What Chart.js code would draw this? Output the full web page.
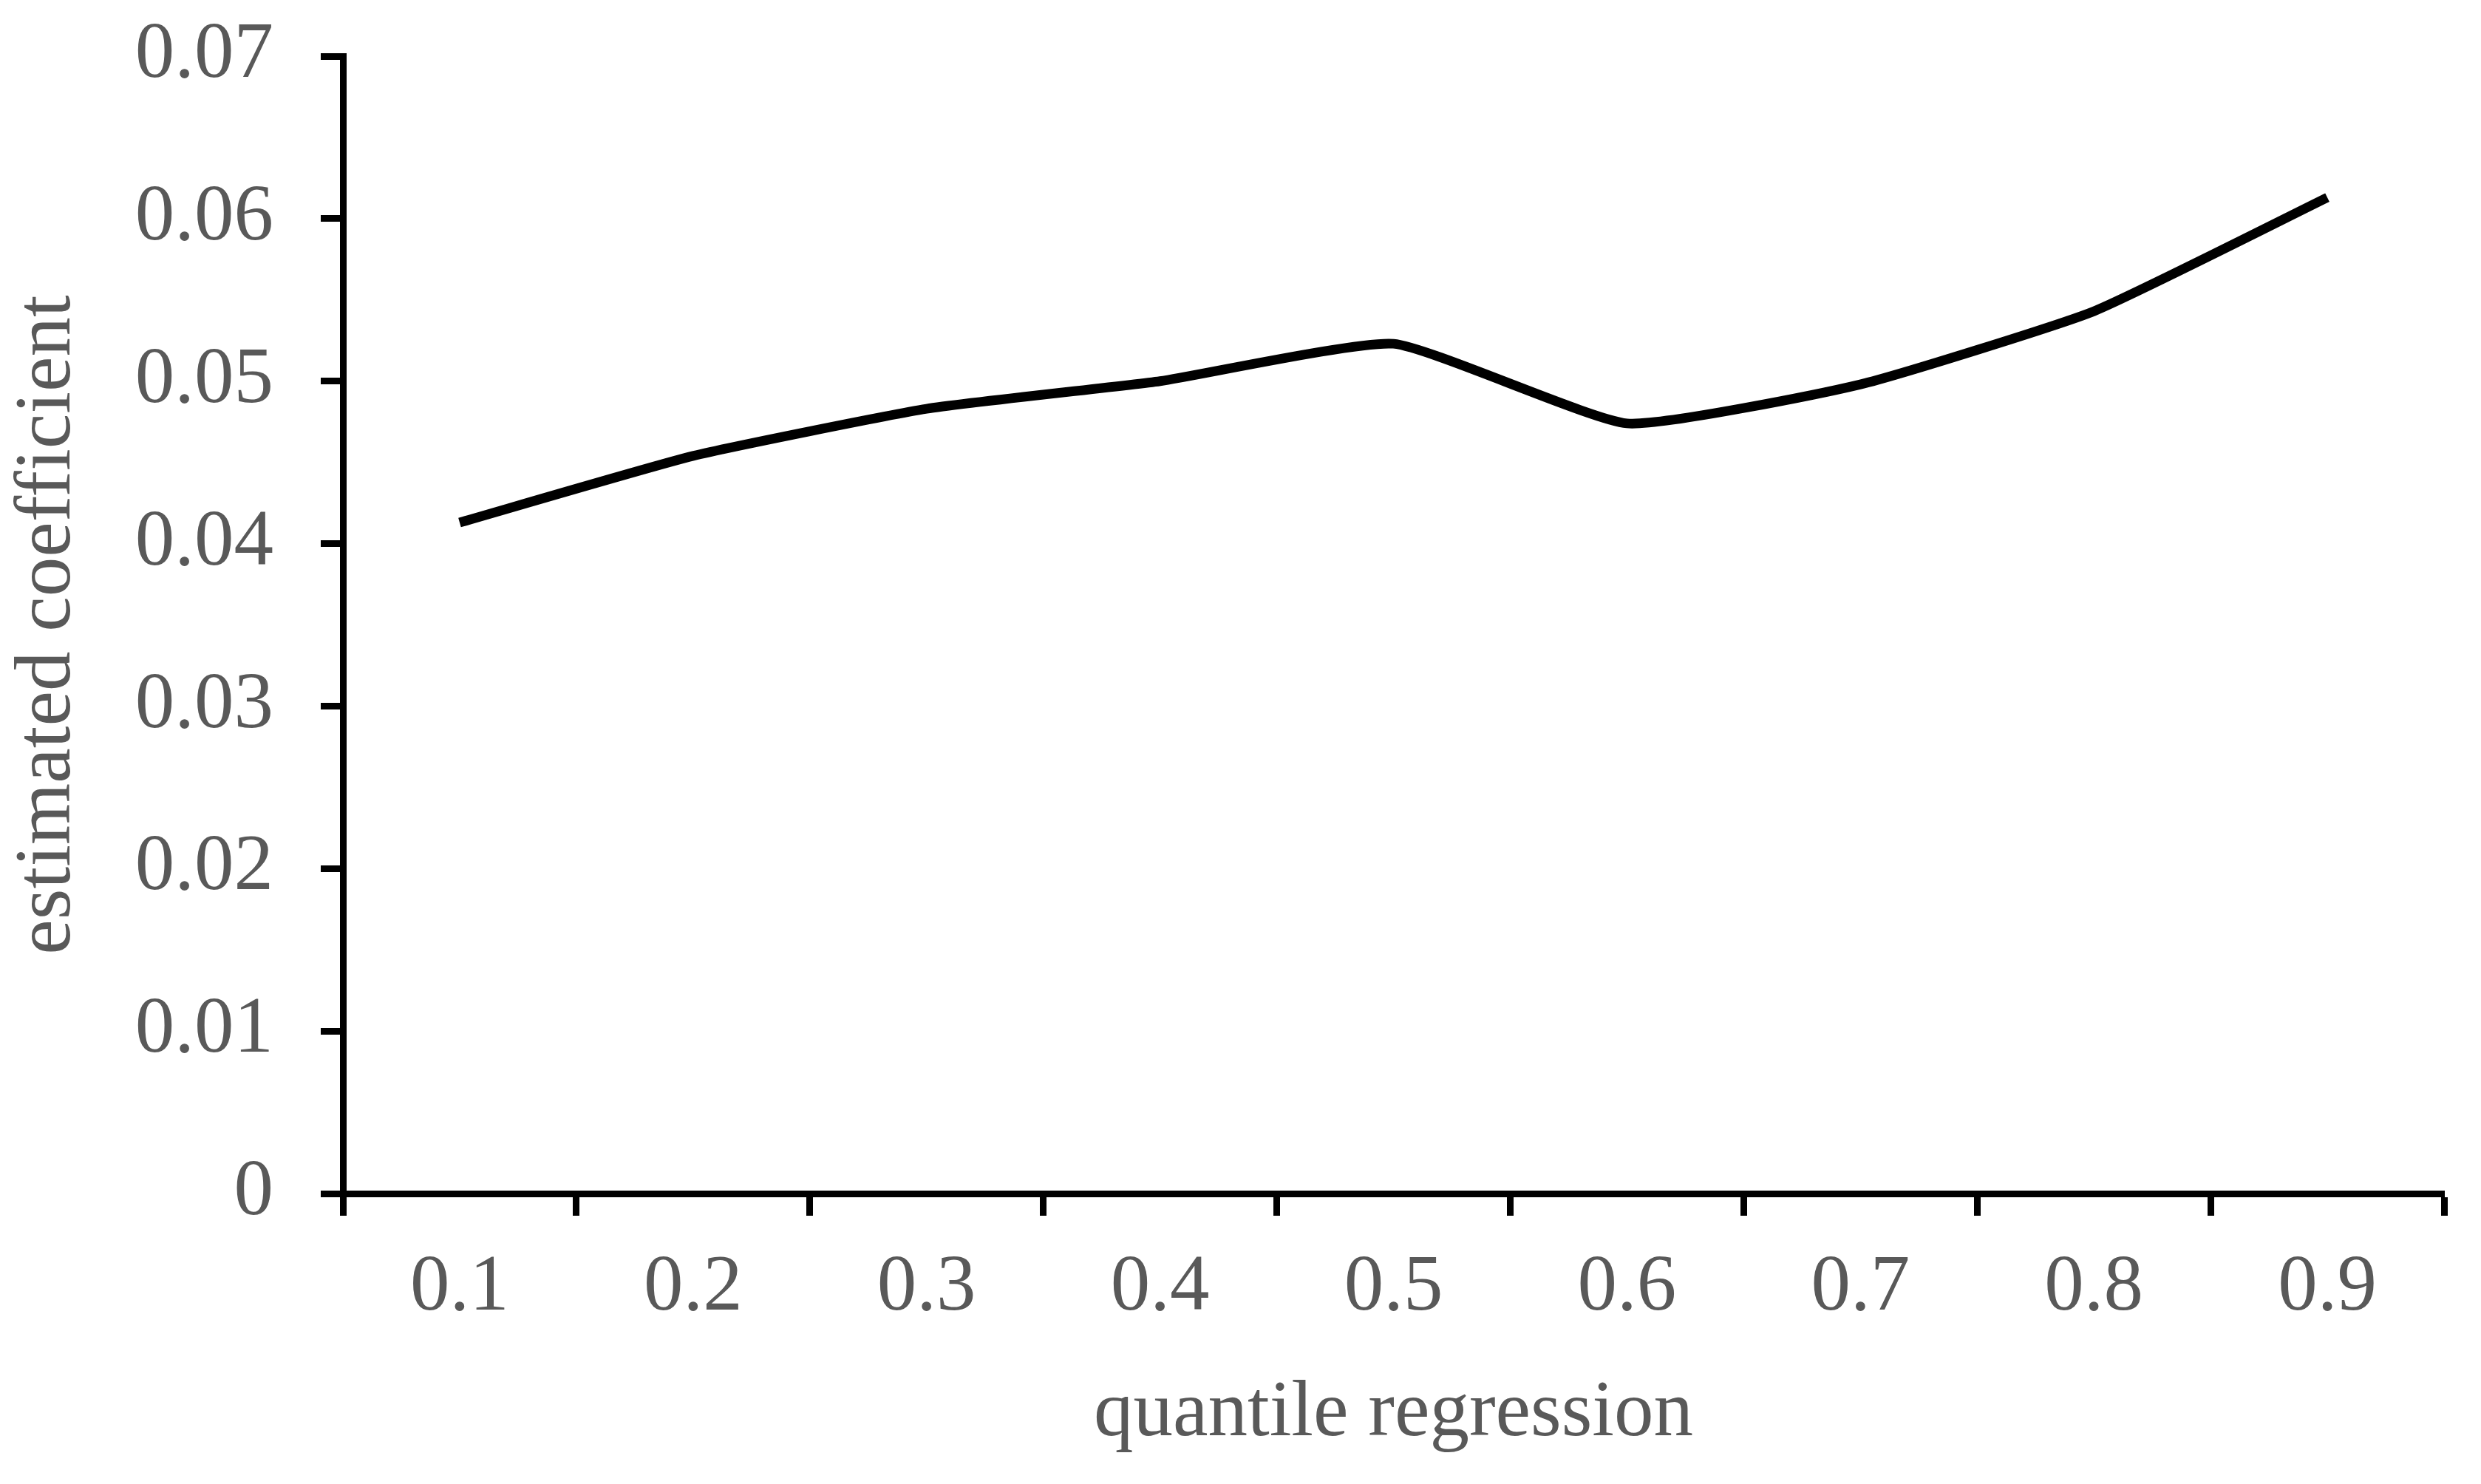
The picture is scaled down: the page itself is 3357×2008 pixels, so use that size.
<!DOCTYPE html>
<html>
<head>
<meta charset="utf-8">
<script src="https://cdn.jsdelivr.net/npm/chart.js@4/dist/chart.umd.min.js"></script>
<style>
  html, body { margin: 0; padding: 0; background: #fff; }
  #wrap { width: 3357px; height: 2008px; }
</style>
</head>
<body>
<div id="wrap"><canvas id="quantileChart"></canvas></div>
<script>
var quantiles = ['0.1', '0.2', '0.3', '0.4', '0.5', '0.6', '0.7', '0.8', '0.9'];
var coefficients = [0.0413, 0.0454, 0.0483, 0.0500, 0.0523, 0.0474, 0.0498, 0.0543, 0.0613];
var yTickLabels = ['0', '0.01', '0.02', '0.03', '0.04', '0.05', '0.06', '0.07'];

var textColor = '#595959';
var serif = "'Liberation Serif', 'Times New Roman', serif";

var ctx = document.getElementById('quantileChart').getContext('2d');

var chart = new Chart(ctx, {
  type: 'line',
  data: {
    labels: quantiles,
    datasets: [{
      label: 'estimated coefficient',
      data: coefficients,
      borderColor: '#000000',
      borderWidth: 13,
      pointRadius: 0,
      tension: 0.15,
      fill: false
    }]
  },
  options: {
    responsive: true,
    maintainAspectRatio: false,
    animation: false,
    layout: {
      padding: { top: 76, right: 50, bottom: 0, left: 0 }
    },
    plugins: {
      legend: { display: false },
      tooltip: { enabled: false }
    },
    scales: {
      x: {
        type: 'category',
        offset: true,
        grid: {
          offset: true,
          drawOnChartArea: false,
          tickLength: 30,
          tickWidth: 9,
          tickColor: '#000000'
        },
        border: { display: true, color: '#000000', width: 9 },
        ticks: {
          color: textColor,
          padding: 35,
          font: { family: serif, size: 107 }
        },
        title: {
          display: true,
          text: 'quantile regression',
          color: textColor,
          padding: { top: 0, bottom: 30 },
          font: { family: serif, size: 107 }
        },
        afterFit: function(scale) { scale.height = 393; }
      },
      y: {
        min: 0,
        max: 0.07,
        grid: {
          drawOnChartArea: false,
          tickLength: 30,
          tickWidth: 9,
          tickColor: '#000000'
        },
        border: { display: true, color: '#000000', width: 9 },
        ticks: {
          stepSize: 0.01,
          color: textColor,
          padding: 64,
          font: { family: serif, size: 107 },
          callback: function(value, index) { return yTickLabels[index]; }
        },
        title: {
          display: true,
          text: 'estimated coefficient',
          color: textColor,
          padding: { top: 2, bottom: 0 },
          font: { family: serif, size: 107 }
        },
        afterFit: function(scale) {
          scale.width = 464;
          scale.paddingTop = 0;
          scale.paddingBottom = 0;
        }
      }
    }
  }
});
</script>
</body>
</html>
